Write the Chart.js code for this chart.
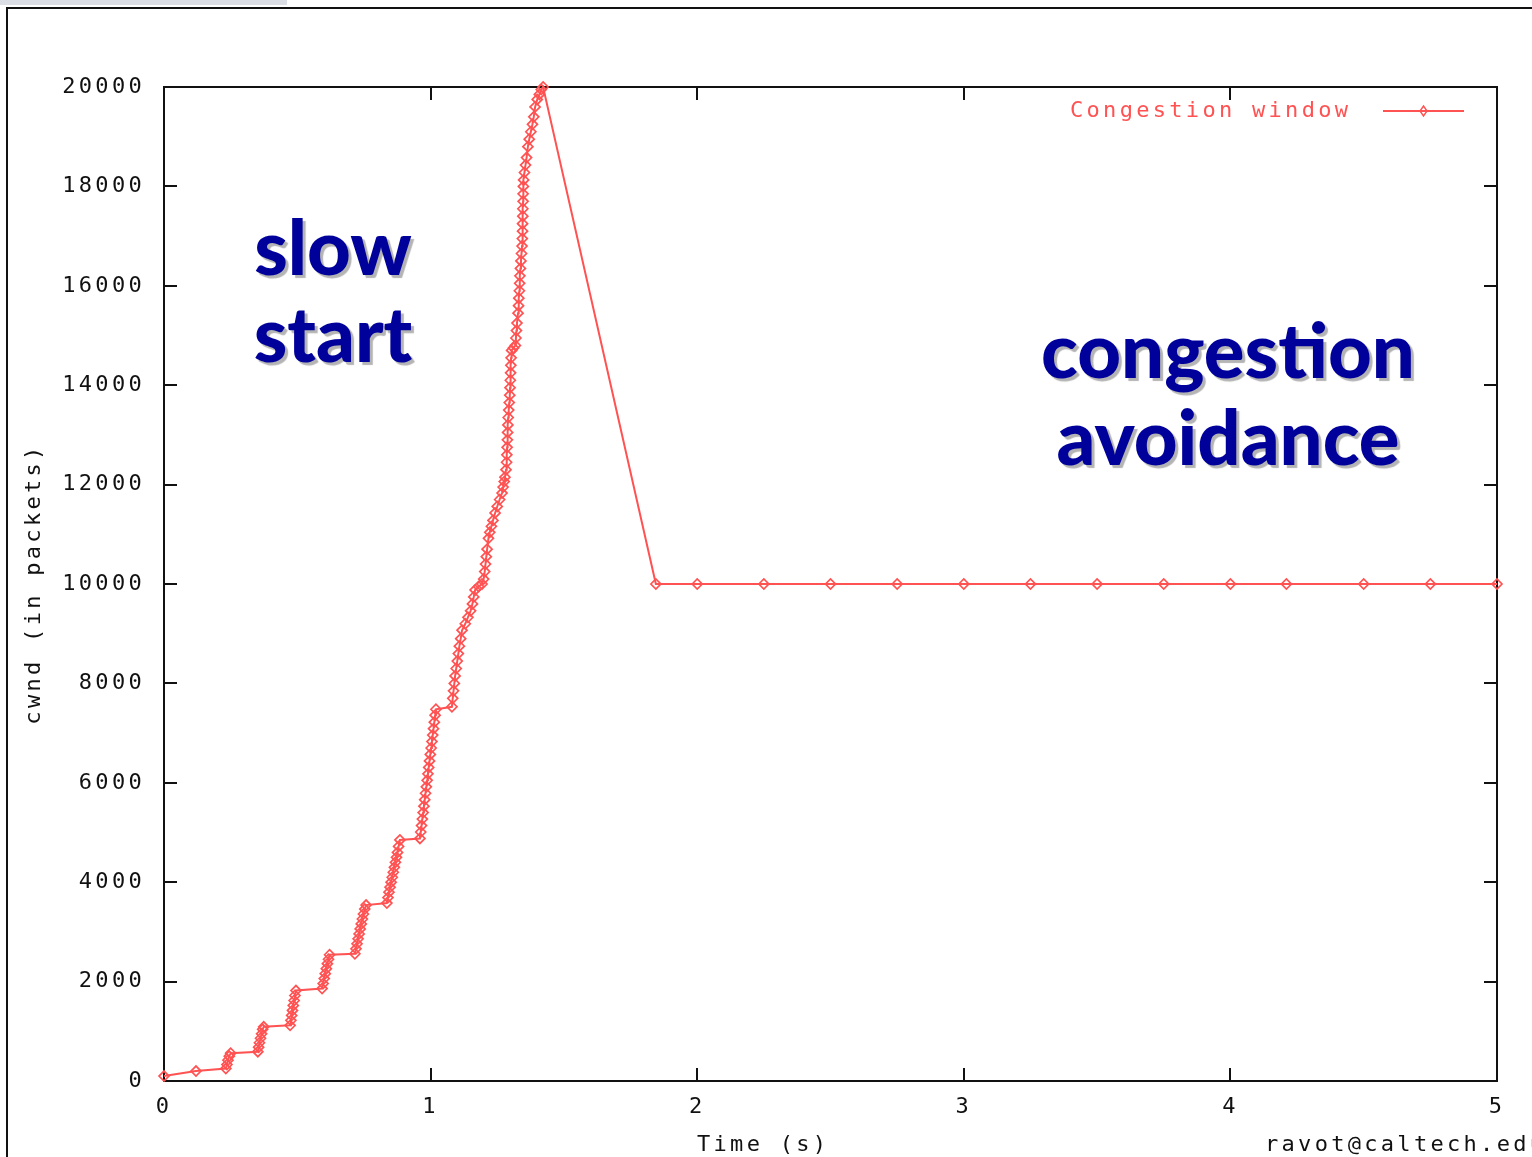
<!DOCTYPE html>
<html>
<head>
<meta charset="utf-8">
<title>TCP congestion window</title>
<script src="https://cdn.jsdelivr.net/npm/chart.js@4.4.1/dist/chart.umd.min.js"></script>
<style>
  html, body { margin: 0; padding: 0; background: #fff; overflow: hidden; }
  #wrap { position: absolute; left: 0; top: 0; width: 1532px; height: 1157px; }
  #tab { position: absolute; left: 0; top: 0; width: 287px; height: 5px; background: #dcdee6; }
  #frame { position: absolute; left: 6px; top: 7px; width: 1540px; height: 1160px;
           border-left: 2px solid #111; border-top: 2px solid #111; }
  .note { position: absolute; font-family: "Comic Sans MS", Lato, sans-serif; font-weight: 900;
          color: #00009a; text-shadow: 3px 3px 1px #b4b4b4; text-align: center;
          font-size: 76px; line-height: 87px; }
</style>
</head>
<body>
<div id="wrap">
  <div id="tab"></div>
  <div id="frame"></div>
  <canvas id="cwnd"></canvas>
  <div class="note" style="left:213px; top:202px; width:240px;">slow<br>start</div>
  <div class="note" style="left:1028px; top:305px; width:400px;">congestion<br>avoidance</div>
</div>
<script>
// slow start: one burst of ACKs per RTT, then the peak
const slowStartTime = [
  0.000, 0.120,
  0.232, 0.236, 0.240, 0.245, 0.250,
  0.352, 0.355, 0.358, 0.362, 0.366, 0.370, 0.374,
  0.473, 0.476, 0.479, 0.482, 0.485, 0.488, 0.491, 0.495,
  0.593, 0.597, 0.601, 0.605, 0.609, 0.613, 0.617, 0.621,
  0.716, 0.720, 0.724, 0.728, 0.732, 0.736, 0.740, 0.744, 0.748, 0.753, 0.758,
  0.836, 0.840, 0.844, 0.848, 0.852, 0.856, 0.860, 0.864, 0.868, 0.872, 0.876, 0.880, 0.885,
  0.960, 0.963, 0.966, 0.969, 0.972, 0.975, 0.978, 0.981, 0.984, 0.987, 0.990,
  0.993, 0.996, 0.999, 1.002, 1.005, 1.008, 1.011, 1.014, 1.017, 1.020,
  1.080, 1.083, 1.086, 1.089, 1.092, 1.096, 1.100, 1.104, 1.108, 1.113,
  1.118, 1.130, 1.140, 1.150, 1.157, 1.162, 1.167, 1.180, 1.193, 1.199,
  1.203, 1.206, 1.209, 1.212, 1.217, 1.222, 1.228, 1.234, 1.242, 1.250,
  1.259, 1.268, 1.272, 1.276, 1.279, 1.283, 1.285, 1.286, 1.287, 1.288,
  1.289, 1.290, 1.291, 1.293, 1.295, 1.297, 1.298, 1.299, 1.300, 1.301,
  1.302, 1.304, 1.311, 1.318, 1.320, 1.322, 1.324, 1.328, 1.330, 1.331,
  1.333, 1.334, 1.335, 1.337, 1.339, 1.341, 1.343, 1.344, 1.345, 1.345,
  1.346, 1.346, 1.347, 1.347, 1.348, 1.349, 1.352, 1.356, 1.360, 1.365,
  1.370, 1.376, 1.382, 1.387, 1.392, 1.400, 1.408, 1.415, 1.422
];
const slowStartCwnd = [
  100, 200,
  250, 330, 420, 500, 560,
  590, 680, 770, 860, 950, 1040, 1090,
  1120, 1220, 1320, 1420, 1520, 1620, 1720, 1820,
  1860, 1960, 2060, 2160, 2260, 2360, 2450, 2540,
  2560, 2660, 2760, 2860, 2960, 3060, 3160, 3260, 3360, 3460, 3540,
  3580, 3690, 3800, 3900, 4000, 4100, 4200, 4300, 4400, 4500, 4600, 4720, 4850,
  4880, 5010, 5140, 5270, 5400, 5530, 5660, 5790, 5920, 6050, 6180,
  6310, 6440, 6570, 6700, 6830, 6960, 7090, 7220, 7360, 7480,
  7530, 7700, 7850, 8000, 8150, 8300, 8450, 8600, 8750, 8900,
  9070, 9200, 9330, 9460, 9600, 9740, 9880, 9950, 10000, 10100,
  10250, 10400, 10550, 10700, 10920, 11040, 11160, 11280, 11430, 11560,
  11700, 11830, 11950, 12060, 12150, 12300, 12450, 12600, 12750, 12900,
  13050, 13200, 13350, 13500, 13650, 13800, 13950, 14100, 14250, 14400,
  14550, 14700, 14750, 14800, 14950, 15100, 15250, 15450, 15600, 15750,
  15900, 16050, 16200, 16350, 16500, 16650, 16800, 16950, 17100, 17250,
  17400, 17550, 17700, 17850, 18000, 18130, 18280, 18430, 18580, 18800,
  18950, 19100, 19250, 19400, 19600, 19750, 19850, 19950, 20000
];

// after the loss: window halved and held
const avoidanceTime = [1.845, 2.000, 2.250, 2.500, 2.750, 3.000, 3.250, 3.500, 3.750, 4.000, 4.210, 4.500, 4.750, 5.000];
const avoidanceCwnd = [10000, 10000, 10000, 10000, 10000, 10000, 10000, 10000, 10000, 10000, 10000, 10000, 10000, 10000];

const timeTicks = [0, 1, 2, 3, 4, 5];
const cwndTicks = [0, 2000, 4000, 6000, 8000, 10000, 12000, 14000, 16000, 18000, 20000];

const RED = 'rgb(255, 82, 82)';
const INK = '#111';
const MONO = "'DejaVu Sans Mono', 'Liberation Mono', monospace";
const SPACING = '3.3px';   // wide terminal-style lettering

const points = slowStartTime.map((t, i) => ({ x: t, y: slowStartCwnd[i] }))
  .concat(avoidanceTime.map((t, i) => ({ x: t, y: avoidanceCwnd[i] })));

function diamond(ctx, x, y, w, h) {
  ctx.beginPath();
  ctx.moveTo(x, y - h); ctx.lineTo(x + w, y); ctx.lineTo(x, y + h); ctx.lineTo(x - w, y);
  ctx.closePath();
  ctx.stroke();
}

const gnuplotFrame = {
  id: 'gnuplotFrame',
  beforeUpdate(chart) { chart.ctx.letterSpacing = SPACING; },
  beforeDraw(chart) { chart.ctx.letterSpacing = SPACING; },
  // box + inward ticks on all four sides, under the data
  beforeDatasetsDraw(chart) {
    const { ctx, chartArea: a, scales } = chart;
    const len = 13;
    ctx.save();
    ctx.strokeStyle = INK;
    ctx.lineWidth = 2;
    ctx.strokeRect(a.left, a.top, a.right - a.left, a.bottom - a.top);
    ctx.beginPath();
    scales.y.ticks.forEach(t => {
      const y = Math.round(scales.y.getPixelForValue(t.value));
      ctx.moveTo(a.left, y); ctx.lineTo(a.left + len, y);
      ctx.moveTo(a.right, y); ctx.lineTo(a.right - len, y);
    });
    scales.x.ticks.forEach(t => {
      const x = Math.round(scales.x.getPixelForValue(t.value));
      ctx.moveTo(x, a.bottom); ctx.lineTo(x, a.bottom - len);
      ctx.moveTo(x, a.top); ctx.lineTo(x, a.top + len);
    });
    ctx.stroke();
    ctx.restore();
  },
  // key in the top right corner, axis label and the signature line
  afterDraw(chart) {
    const { ctx, chartArea: a } = chart;
    const ds = chart.data.datasets[0];
    ctx.save();
    ctx.letterSpacing = SPACING;
    ctx.font = '22px ' + MONO;
    ctx.textBaseline = 'middle';

    const keyY = a.top + 24;
    const lineEnd = a.right - 33;
    const lineStart = lineEnd - 81;
    ctx.fillStyle = ds.borderColor;
    ctx.textAlign = 'right';
    ctx.fillText(ds.label, lineStart - 35 + 3.3, keyY);
    ctx.strokeStyle = ds.borderColor;
    ctx.lineWidth = 2;
    ctx.beginPath(); ctx.moveTo(lineStart, keyY); ctx.lineTo(lineEnd, keyY); ctx.stroke();
    ctx.lineWidth = 1.4;
    diamond(ctx, (lineStart + lineEnd) / 2, keyY, 3.5, 5);

    ctx.fillStyle = INK;
    ctx.textAlign = 'left';
    ctx.fillText('Time (s)', 697, 1145);
    ctx.fillText('ravot@caltech.edu', 1265, 1145);
    ctx.restore();
  }
};

new Chart(document.getElementById('cwnd'), {
  type: 'line',
  data: {
    datasets: [{
      label: 'Congestion window',
      data: points,
      borderColor: RED,
      borderWidth: 2,
      pointStyle: 'rectRot',
      pointRadius: 5,
      pointBorderWidth: 1.7,
      pointBorderColor: RED,
      pointBackgroundColor: 'rgba(255,255,255,0)',
      tension: 0,
      clip: 10
    }]
  },
  options: {
    animation: false,
    responsive: true,
    maintainAspectRatio: false,
    layout: { padding: { top: 87, right: 35, left: 0, bottom: 0 } },
    scales: {
      x: {
        type: 'linear', min: 0, max: 5,
        afterFit: s => { s.height = 76; },
        afterBuildTicks: s => { s.ticks = timeTicks.map(v => ({ value: v })); },
        grid: { display: false, drawTicks: false },
        border: { display: false },
        ticks: { padding: 13, color: INK, maxRotation: 0, font: { family: MONO, size: 22 },
                 callback: v => String(v) }
      },
      y: {
        min: 0, max: 20000,
        afterFit: s => { s.width = 164; },
        afterBuildTicks: s => { s.ticks = cwndTicks.map(v => ({ value: v })); },
        grid: { display: false, drawTicks: false },
        border: { display: false },
        ticks: { padding: 19, color: INK, font: { family: MONO, size: 22 },
                 callback: v => String(v) },
        title: {
          display: true, text: 'cwnd (in packets)', color: INK,
          font: { family: MONO, size: 22 }, padding: { top: 21, bottom: 0 }
        }
      }
    },
    plugins: {
      legend: { display: false },
      tooltip: { enabled: false }
    }
  },
  plugins: [gnuplotFrame]
});
</script>
</body>
</html>
